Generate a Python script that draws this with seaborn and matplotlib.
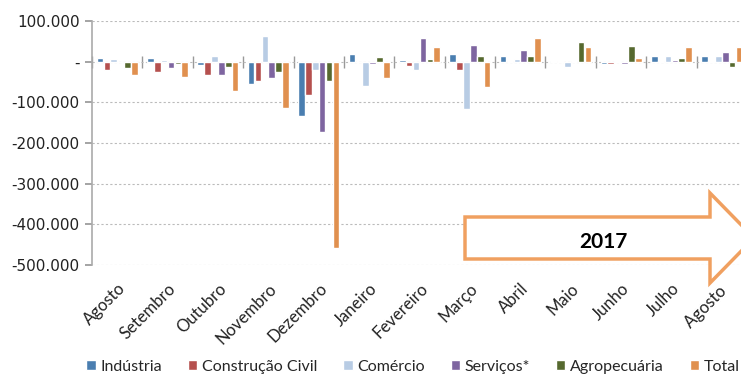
import matplotlib
matplotlib.use('Agg')
import matplotlib.pyplot as plt
import seaborn as sns
import pandas as pd
import numpy as np
from matplotlib.patches import Polygon

# dados
meses = ['Agosto', 'Setembro', 'Outubro', 'Novembro', 'Dezembro', 'Janeiro', 'Fevereiro',
         'Março', 'Abril', 'Maio', 'Junho', 'Julho', 'Agosto ']
setores = ['Indústria', 'Construção Civil', 'Comércio', 'Serviços*', 'Agropecuária', 'Total']
industria = [8000, 8000, -7000, -56000, -133000, 18000, 5000, 20000, 15000, 2000, -6000, 13000, 13000]
construcao = [-20000, -25000, -33000, -48000, -81000, -1000, -11000, -20000, 1000, 1000, -6000, 2000, 2000]
comercio = [6000, 5000, 15000, 62000, -20000, -59000, -20000, -116000, 7000, -12000, 2000, 13000, 13000]
servicos = [-1000, -15000, -33000, -41000, -173000, -6000, 59000, 41000, 28000, 2000, -6000, 5000, 23000]
agro = [-15000, -6000, -12000, -25000, -48000, 12000, 7000, 15000, 15000, 49000, 38000, 8000, -12000]
total = [-33000, -37000, -73000, -115000, -458000, -41000, 36000, -63000, 58000, 36000, 10000, 36000, 36000]
cores = ['#4A7EB0', '#B5504E', '#B8CCE4', '#7E65A0', '#56692F', '#E0904F']

yticks = [100000, 0, -100000, -200000, -300000, -400000, -500000]
ylabels = ['100.000', '-', '-100.000', '-200.000', '-300.000', '-400.000', '-500.000']

df = pd.DataFrame({'mes': meses * 6,
                   'setor': np.repeat(setores, len(meses)),
                   'valor': industria + construcao + comercio + servicos + agro + total})

sns.set_theme(style='white')
plt.rcParams['font.family'] = ['DejaVu Sans']

fig = plt.figure(figsize=(7.41, 3.76), dpi=100)
ax = fig.add_axes([92 / 741, 1 - 265 / 376, 655 / 741, 244 / 376])

sns.barplot(data=df, x='mes', y='valor', hue='setor', order=meses, hue_order=setores,
            palette=cores, saturation=1, width=0.82, gap=0.04, errorbar=None, ax=ax, legend=True)

ax.set_ylim(-500000, 100000)
ax.set_xlim(-0.5, len(meses) - 0.5)
ax.set_yticks(yticks)
ax.set_yticklabels(ylabels, fontsize=11, color='#222222')
ax.yaxis.grid(True, linestyle=(0, (2, 2)), color='#bbbbbb', linewidth=0.8)
ax.set_axisbelow(True)
ax.tick_params(axis='y', length=5, color='#999999', left=True, pad=4)
ax.set_xlabel('')
ax.set_ylabel('')
for s in ['top', 'right', 'bottom']:
    ax.spines[s].set_visible(False)
ax.spines['left'].set_color('#aaaaaa')
ax.spines['left'].set_linewidth(1.2)

ax.set_xticks(range(len(meses)))
ax.set_xticklabels(meses, rotation=45, ha='right', rotation_mode='anchor',
                   fontsize=12, family='Lato', color='#222222')
ax.tick_params(axis='x', length=0, pad=11)

# linha do zero com marcas entre os grupos
sec = ax.secondary_xaxis(5 / 6)
sec.set_xticks(np.arange(-0.5, len(meses), 1))
sec.set_xticklabels([])
sec.tick_params(axis='x', bottom=True, top=False, length=8, width=1, color='#999999',
                direction='inout')
sec.spines['bottom'].set_color('#aaaaaa')
sec.spines['bottom'].set_linewidth(1.2)
sec.spines['top'].set_visible(False)

leg = ax.legend(loc='center', ncol=6, frameon=False, handlelength=0.6, handleheight=0.6,
                handletextpad=0.3, columnspacing=1.6, prop={'family': 'Lato', 'size': 11.5})
leg.set_bbox_to_anchor((413 / 741, 9 / 376), transform=fig.transFigure)

# seta 2017
pts = [(465, 217), (710, 217), (710, 193), (754, 238), (710, 283), (710, 259), (465, 259)]
pts = [(x / 741, 1 - y / 376) for x, y in pts]
fig.patches.append(Polygon(pts, closed=True, facecolor='white', edgecolor='#F0A060',
                           linewidth=2.5, transform=fig.transFigure, zorder=5))
fig.text(603 / 741, 1 - 242 / 376, '2017', ha='center', va='center', fontsize=15,
         fontweight='bold', family='Lato', color='black', zorder=6)

fig.savefig('out.png', dpi=100)
